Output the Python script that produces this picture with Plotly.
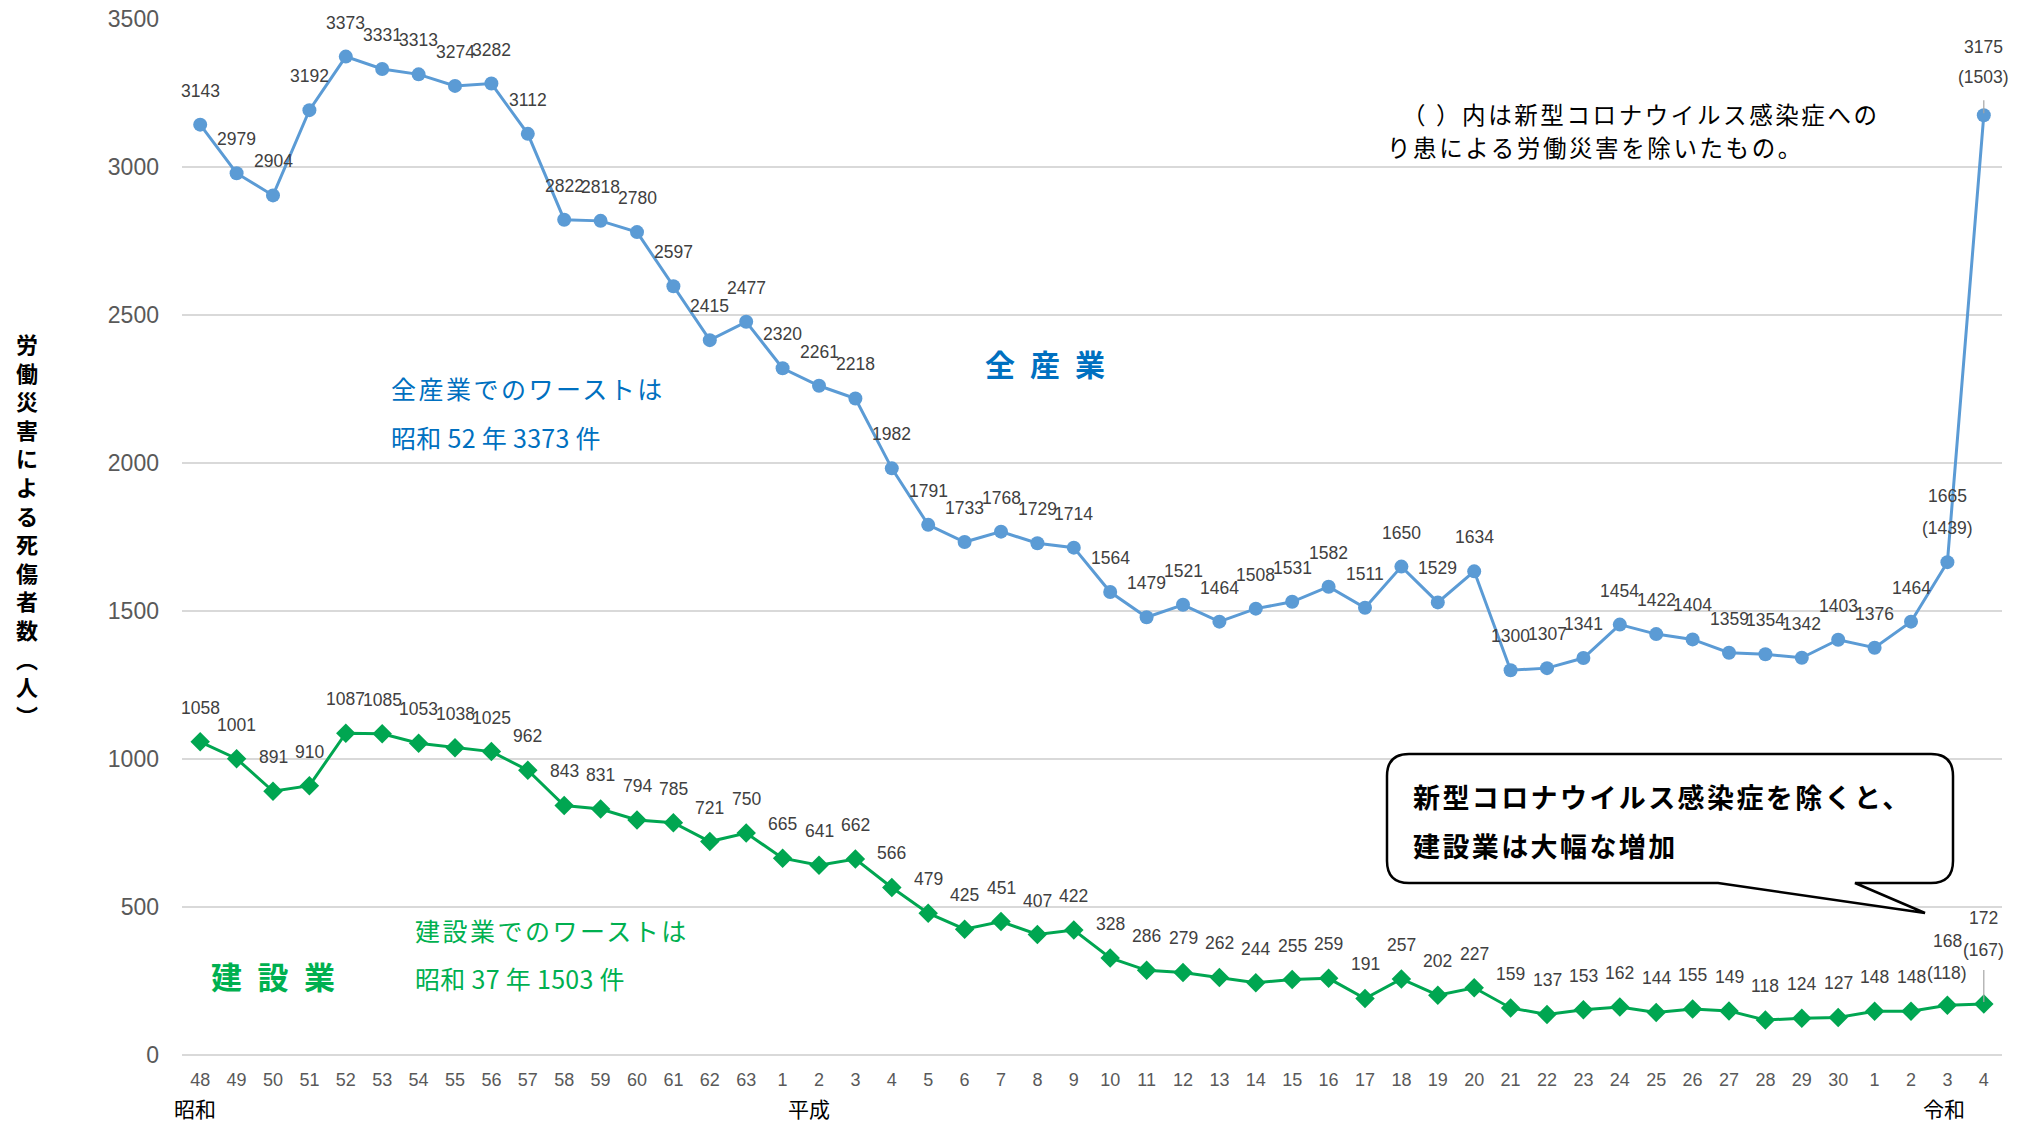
import plotly.graph_objects as go

# ---------------- data ----------------
x_labels = ["48", "49", "50", "51", "52", "53", "54", "55", "56", "57", "58", "59", "60", "61", "62", "63",
            "1", "2", "3", "4", "5", "6", "7", "8", "9", "10", "11", "12", "13", "14", "15", "16", "17", "18",
            "19", "20", "21", "22", "23", "24", "25", "26", "27", "28", "29", "30",
            "1", "2", "3", "4"]
all_industries = [3143, 2979, 2904, 3192, 3373, 3331, 3313, 3274, 3282, 3112, 2822, 2818, 2780, 2597, 2415, 2477,
                  2320, 2261, 2218, 1982, 1791, 1733, 1768, 1729, 1714, 1564, 1479, 1521, 1464, 1508, 1531, 1582,
                  1511, 1650, 1529, 1634, 1300, 1307, 1341, 1454, 1422, 1404, 1359, 1354, 1342, 1403,
                  1376, 1464, 1665, 3175]
construction = [1058, 1001, 891, 910, 1087, 1085, 1053, 1038, 1025, 962, 843, 831, 794, 785, 721, 750,
                665, 641, 662, 566, 479, 425, 451, 407, 422, 328, 286, 279, 262, 244, 255, 259,
                191, 257, 202, 227, 159, 137, 153, 162, 144, 155, 149, 118, 124, 127,
                148, 148, 168, 172]
# values excluding COVID-19 infections (令和3, 令和4)
excl_all_industries = [1439, 1503]
excl_construction = [118, 167]
era_labels = ["昭和", "平成", "令和"]
y_ticks = [0, 500, 1000, 1500, 2000, 2500, 3000, 3500]

# ---------------- layout geometry ----------------
W, H = 2033, 1126
ML, MR, MT, MB = 182, 31, 19, 71
PW, PH = W - ML - MR, H - MT - MB


def px_x(px):
    return (px - ML) / PW


def px_y(py):
    return (H - MB - py) / PH


BLUE = "#5B9BD5"
GREEN = "#00A651"
BLUE_TXT = "#0070C0"
GREEN_TXT = "#00B050"
LABEL = "#404040"
AXIS = "#595959"
NUM_FONT = "Liberation Sans, Arial, sans-serif"
JP_FONT = "Noto Sans CJK JP, sans-serif"

idx = list(range(len(x_labels)))

fig = go.Figure()
fig.add_trace(go.Scatter(
    x=idx, y=all_industries, mode="lines+markers", name="全産業",
    line=dict(color=BLUE, width=3), marker=dict(symbol="circle", size=14, color=BLUE),
    hoverinfo="skip", cliponaxis=False))
fig.add_trace(go.Scatter(
    x=idx, y=construction, mode="lines+markers", name="建設業",
    line=dict(color=GREEN, width=3), marker=dict(symbol="diamond", size=15, color=GREEN),
    hoverinfo="skip", cliponaxis=False))

annotations = []
shapes = []


def note(x, y, text, size, color, xanchor="center", xref="paper", yref="paper", **kw):
    annotations.append(dict(x=x, y=y, xref=xref, yref=yref, text=text, showarrow=False,
                            xanchor=xanchor, yanchor="middle",
                            font=dict(family=kw.pop("family", JP_FONT), size=size, color=color), **kw))


n = len(idx)
# main data labels
main_shift_all = {n - 2: 66, n - 1: 68}
main_shift_con = {n - 2: 64, n - 1: 86}
for i in idx:
    note(i, all_industries[i], str(all_industries[i]), 17.5, LABEL, xref="x", yref="y",
         yshift=main_shift_all.get(i, 34), family=NUM_FONT)
    note(i, construction[i], str(construction[i]), 17.5, LABEL, xref="x", yref="y",
         yshift=main_shift_con.get(i, 34), family=NUM_FONT)
# bracketed labels (excluding COVID-19)
excl_shift_all = [34, 38]
excl_shift_con = [32, 54]
for k in range(2):
    i = n - 2 + k
    note(i, all_industries[i], f"({excl_all_industries[k]})", 17.5, LABEL, xref="x", yref="y",
         yshift=excl_shift_all[k], family=NUM_FONT)
    note(i, construction[i], f"({excl_construction[k]})", 17.5, LABEL, xref="x", yref="y",
         yshift=excl_shift_con[k], family=NUM_FONT)

# leader lines for 令和4 labels
shapes.append(dict(type="line", xref="x", yref="y", x0=n - 1, x1=n - 1, ysizemode="pixel",
                   yanchor=all_industries[n - 1], y0=2, y1=15, line=dict(color="#A6A6A6", width=1.2)))
shapes.append(dict(type="line", xref="x", yref="y", x0=n - 1, x1=n - 1, ysizemode="pixel",
                   yanchor=construction[n - 1], y0=2, y1=34, line=dict(color="#A6A6A6", width=1.2)))

# era labels under the axis
era_pos = [-0.15, 16.72, 47.9]
for lab, xp in zip(era_labels, era_pos):
    note(xp, px_y(1108), lab, 21, "#000000", xref="x")

# vertical y-axis title (upright characters, one per line)
title_chars = list("労働災害による死傷者数") + ["︵", "人", "︶"]
note(px_x(27), px_y(529), "<b>" + "<br>".join(title_chars) + "</b>", 22, "#000000")

# series titles
note(px_x(1045), px_y(363), "<b>全\u2002産\u2002業</b>", 30, BLUE_TXT)
note(px_x(273), px_y(975), "<b>建\u2002設\u2002業</b>", 31, GREEN_TXT)


def ls(t, sp):
    return f'<span style="letter-spacing:{sp}px">{t}</span>'


# worst-record notes
for txt, y, sp in [("全産業でのワーストは", 388, 2.5), ("昭和 52 年 3373 件", 437, 0.3)]:
    note(px_x(389), px_y(y), ls(txt, sp), 25, BLUE_TXT, xanchor="left")
for txt, y, sp in [("建設業でのワーストは", 930, 2.5), ("昭和 37 年 1503 件", 978, 0.3)]:
    note(px_x(413), px_y(y), ls(txt, sp), 25, GREEN_TXT, xanchor="left")

# top-right note
for txt, x, y in [("（ ）内は新型コロナウイルス感染症への", 1400, 114),
                  ("り患による労働災害を除いたもの。", 1385, 147)]:
    note(px_x(x), px_y(y), ls(txt, 2.6), 23.5, "#000000", xanchor="left")

# callout bubble
L, R, T, B, r = 1387, 1953, 754, 883, 22
t1, t2, tip = 1718, 1855, (1925, 913)


def P(x, y):
    return f"{px_x(x):.5f},{px_y(y):.5f}"


path = (f"M {P(L + r, T)} L {P(R - r, T)} Q {P(R, T)} {P(R, T + r)} L {P(R, B - r)} "
        f"Q {P(R, B)} {P(R - r, B)} L {P(t2, B)} L {P(*tip)} L {P(t1, B)} L {P(L + r, B)} "
        f"Q {P(L, B)} {P(L, B - r)} L {P(L, T + r)} Q {P(L, T)} {P(L + r, T)} Z")
shapes.append(dict(type="path", xref="paper", yref="paper", path=path, fillcolor="white",
                   line=dict(color="#000000", width=2.5), layer="above"))
for txt, y in [("新型コロナウイルス感染症を除くと、", 797), ("建設業は大幅な増加", 845)]:
    note(px_x(1411), px_y(y), ls(f"<b>{txt}</b>", 2.4), 27, "#000000", xanchor="left")

fig.update_layout(
    width=W, height=H, margin=dict(l=ML, r=MR, t=MT, b=MB, pad=0, autoexpand=False),
    paper_bgcolor="white", plot_bgcolor="white", showlegend=False,
    annotations=annotations, shapes=shapes,
    xaxis=dict(range=[-0.5, n - 0.5], tickmode="array", tickvals=idx, ticktext=x_labels, automargin=False,
               showgrid=False, zeroline=False, showline=False, ticks="", ticklabelstandoff=12,
               tickfont=dict(family=NUM_FONT, size=18, color=AXIS)),
    yaxis=dict(range=[0, 3500], tickmode="array", tickvals=y_ticks, showgrid=True, gridcolor="#D9D9D9",
               gridwidth=2, zeroline=True, zerolinecolor="#D9D9D9", zerolinewidth=2, showline=False,
               automargin=False, ticks="", ticklabelstandoff=22,
               tickfont=dict(family=NUM_FONT, size=23, color=AXIS)),
)

fig.write_html("out.html", config={"displayModeBar": False},
               post_script="document.body.style.margin='0';")
